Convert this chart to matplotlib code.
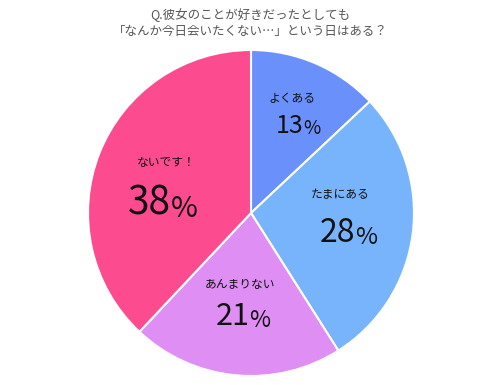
import matplotlib
matplotlib.use("Agg")
import matplotlib.pyplot as plt

plt.rcParams['font.family'] = ['Noto Sans CJK JP', 'DejaVu Sans']

labels = ['よくある', 'たまにある', 'あんまりない', 'ないです！']
values = [13, 28, 21, 38]
colors = ['#6a90fc', '#78b4fb', '#df8ef4', '#fc4b8e']

# text placement (data coords, pie radius = 1)
label_pos = [(0.25, 0.70), (0.55, 0.11), (-0.07, -0.44), (-0.52, 0.31)]
num_pos = [(0.32, 0.49), (0.64, -0.18), (-0.01, -0.69), (-0.49, -0.01)]
num_size = [18, 23, 22, 28]

title = 'Q.彼女のことが好きだったとしても\n「なんか今日会いたくない…」という日はある？'

fig = plt.figure(figsize=(5, 3.85), dpi=100)
r_px = 165
ax = fig.add_axes([(251 - r_px) / 500, (385 - 213 - r_px) / 385, 2 * r_px / 500, 2 * r_px / 385])
ax.pie(values, colors=colors, startangle=90, counterclock=False,
       wedgeprops=dict(edgecolor='white', linewidth=1.5))
lim = r_px / 163
ax.set_xlim(-lim, lim)
ax.set_ylim(-lim, lim)
ax.set_aspect('equal')
ax.axis('off')

for lab, v, lp, npos, fs in zip(labels, values, label_pos, num_pos, num_size):
    ax.text(lp[0], lp[1], lab, ha='center', va='center', fontsize=8.5, color='#111111')
    t = ax.text(npos[0], npos[1], str(v), ha='right', va='baseline', fontsize=fs, color='#111111')
    ax.annotate('%', xy=(1, 0), xycoords=t, xytext=(0, 0), textcoords='offset points',
                ha='left', va='bottom', fontsize=fs * 0.75, color='#111111')

fig.text(0.5, 1 - 23 / 385, title, ha='center', va='center', fontsize=9,
         color='#555555', linespacing=1.3)

fig.savefig('out.png', dpi=100)
